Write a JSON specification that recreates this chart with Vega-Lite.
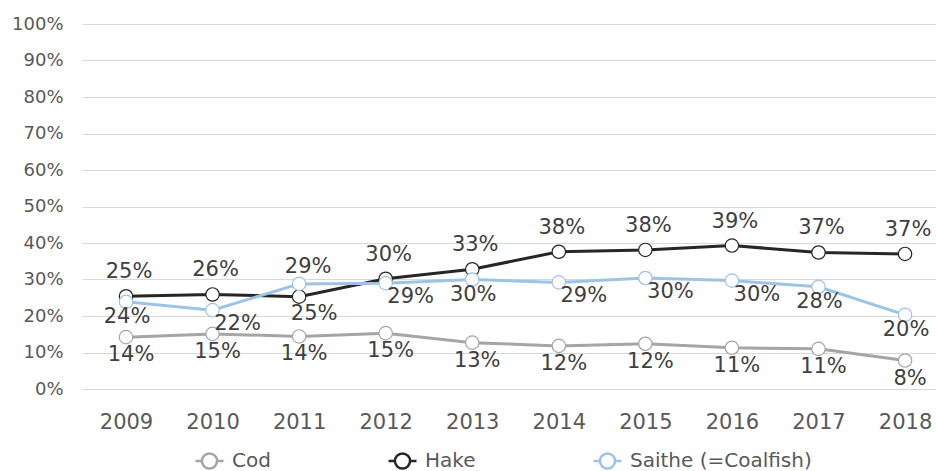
{
  "$schema": "https://vega.github.io/schema/vega-lite/v6.json",
  "autosize": {"type": "none"},
  "padding": {"left": 82, "top": 24, "right": 0, "bottom": 82},
  "width": 854,
  "height": 365,
  "background": "white",
  "config": {
    "view": {"stroke": null},
    "font": "DejaVu Sans",
    "axis": {"labelFont": "DejaVu Sans", "labelColor": "#595959"},
    "legend": {"labelFont": "DejaVu Sans", "labelColor": "#595959"}
  },
  "data": {
    "values": [
      {"year": "2009", "species": "Cod", "share": 0.142},
      {"year": "2010", "species": "Cod", "share": 0.151},
      {"year": "2011", "species": "Cod", "share": 0.144},
      {"year": "2012", "species": "Cod", "share": 0.153},
      {"year": "2013", "species": "Cod", "share": 0.127},
      {"year": "2014", "species": "Cod", "share": 0.118},
      {"year": "2015", "species": "Cod", "share": 0.124},
      {"year": "2016", "species": "Cod", "share": 0.113},
      {"year": "2017", "species": "Cod", "share": 0.110},
      {"year": "2018", "species": "Cod", "share": 0.078},
      {"year": "2009", "species": "Hake", "share": 0.254},
      {"year": "2010", "species": "Hake", "share": 0.259},
      {"year": "2011", "species": "Hake", "share": 0.253},
      {"year": "2012", "species": "Hake", "share": 0.302},
      {"year": "2013", "species": "Hake", "share": 0.328},
      {"year": "2014", "species": "Hake", "share": 0.376},
      {"year": "2015", "species": "Hake", "share": 0.381},
      {"year": "2016", "species": "Hake", "share": 0.393},
      {"year": "2017", "species": "Hake", "share": 0.374},
      {"year": "2018", "species": "Hake", "share": 0.370},
      {"year": "2009", "species": "Saithe (=Coalfish)", "share": 0.239},
      {"year": "2010", "species": "Saithe (=Coalfish)", "share": 0.216},
      {"year": "2011", "species": "Saithe (=Coalfish)", "share": 0.288},
      {"year": "2012", "species": "Saithe (=Coalfish)", "share": 0.290},
      {"year": "2013", "species": "Saithe (=Coalfish)", "share": 0.300},
      {"year": "2014", "species": "Saithe (=Coalfish)", "share": 0.292},
      {"year": "2015", "species": "Saithe (=Coalfish)", "share": 0.304},
      {"year": "2016", "species": "Saithe (=Coalfish)", "share": 0.297},
      {"year": "2017", "species": "Saithe (=Coalfish)", "share": 0.280},
      {"year": "2018", "species": "Saithe (=Coalfish)", "share": 0.203}
    ]
  },
  "encoding": {
    "x": {
      "field": "year", "type": "ordinal",
      "scale": {"type": "point", "padding": 0.433, "align": 0.587},
      "axis": {"title": null, "labelAngle": 0, "labelFontSize": 21, "labelPadding": 22, "domain": false, "ticks": false, "grid": false}
    },
    "y": {
      "field": "share", "type": "quantitative",
      "scale": {"domain": [0, 1], "nice": false},
      "axis": {"title": null, "values": [0, 0.1, 0.2, 0.3, 0.4, 0.5, 0.6, 0.7, 0.8, 0.9, 1], "format": ".0%", "labelFontSize": 18, "labelPadding": 19, "domain": false, "ticks": false, "grid": true, "gridColor": "#d9d9d9", "gridWidth": 1}
    }
  },
  "layer": [
    {
      "mark": {"type": "line", "strokeWidth": 3},
      "encoding": {
        "stroke": {
          "field": "species", "type": "nominal",
          "scale": {"domain": ["Cod", "Hake", "Saithe (=Coalfish)"], "range": ["#a5a5a5", "#262626", "#9dc3e6"]},
          "legend": {
            "title": null, "orient": "none", "direction": "horizontal",
            "legendX": 112, "legendY": 421,
            "symbolType": "M-1,0H-0.54M0.54,0H1M0.54,0A0.54,0.54 0 1,1 -0.54,0A0.54,0.54 0 1,1 0.54,0Z",
            "symbolSize": 784, "symbolFillColor": "white", "symbolStrokeWidth": 2.5,
            "labelFontSize": 20, "labelOffset": 7, "labelLimit": 400, "columnPadding": 112
          }
        }
      }
    },
    {
      "mark": {"type": "circle", "fill": "white", "opacity": 1, "fillOpacity": 1, "size": 180, "strokeWidth": 1.2},
      "encoding": {
        "stroke": {"field": "species", "type": "nominal"}
      }
    },
    {
      "transform": [{"filter": "datum.species == 'Cod'"}],
      "mark": {"type": "text", "fontSize": 21, "color": "#404040", "dx": 5, "dy": 18},
      "encoding": {"text": {"field": "share", "type": "quantitative", "format": ".0%"}}
    },
    {
      "transform": [{"filter": "datum.species == 'Hake' && datum.year != '2011'"}],
      "mark": {"type": "text", "fontSize": 21, "color": "#404040", "dx": 3, "dy": -24},
      "encoding": {"text": {"field": "share", "type": "quantitative", "format": ".0%"}}
    },
    {
      "transform": [{"filter": "datum.species == 'Hake' && datum.year == '2011'"}],
      "mark": {"type": "text", "fontSize": 21, "color": "#404040", "dx": 15, "dy": 17},
      "encoding": {"text": {"field": "share", "type": "quantitative", "format": ".0%"}}
    },
    {
      "transform": [{"filter": "datum.species == 'Saithe (=Coalfish)' && datum.year == '2011'"}],
      "mark": {"type": "text", "fontSize": 21, "color": "#404040", "dx": 9, "dy": -17},
      "encoding": {"text": {"field": "share", "type": "quantitative", "format": ".0%"}}
    },
    {
      "transform": [{"filter": "datum.species == 'Saithe (=Coalfish)' && indexof(['2009','2013','2017','2018'], datum.year) >= 0"}],
      "mark": {"type": "text", "fontSize": 21, "color": "#404040", "dx": 1, "dy": 15},
      "encoding": {"text": {"field": "share", "type": "quantitative", "format": ".0%"}}
    },
    {
      "transform": [{"filter": "datum.species == 'Saithe (=Coalfish)' && indexof(['2010','2012','2014','2015','2016'], datum.year) >= 0"}],
      "mark": {"type": "text", "fontSize": 21, "color": "#404040", "dx": 25, "dy": 14},
      "encoding": {"text": {"field": "share", "type": "quantitative", "format": ".0%"}}
    }
  ]
}
